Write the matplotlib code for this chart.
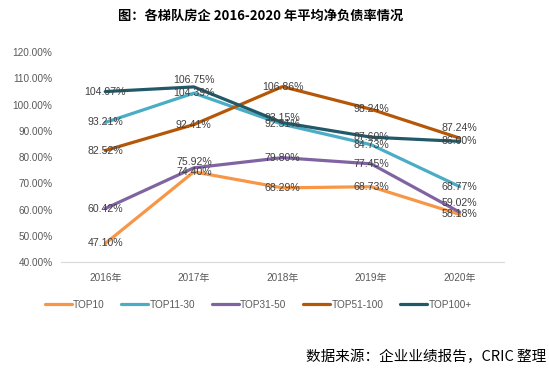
import numpy as np
import matplotlib.pyplot as plt

plt.rcParams['font.family'] = ['Liberation Sans', 'Noto Sans CJK SC', 'DejaVu Sans']

# data
years = ['2016年', '2017年', '2018年', '2019年', '2020年']
series_names = ['TOP10', 'TOP11-30', 'TOP31-50', 'TOP51-100', 'TOP100+']
top10 = [47.10, 74.40, 68.29, 68.73, 58.18]
top11_30 = [93.21, 104.39, 92.51, 84.73, 68.77]
top31_50 = [60.42, 75.92, 79.80, 77.45, 59.02]
top51_100 = [82.52, 92.41, 106.86, 98.24, 87.24]
top100p = [104.97, 106.75, 93.15, 87.60, 86.00]
yticks = [40, 50, 60, 70, 80, 90, 100, 110, 120]

colors = ['#F79646', '#4BACC6', '#8064A2', '#B65708', '#215968']
# labels nudged upward (pixels) so they match the original placement
label_shift = {(1, 4): 7, (2, 4): 5, (4, 3): 10, (1, 2): 6, (4, 2): 9}

fig = plt.figure(figsize=(5.49, 3.75), dpi=100)
ax = fig.add_axes([0.111, 0.301, 0.807, 0.56])

x = np.arange(len(years))
all_series = [top10, top11_30, top31_50, top51_100, top100p]
for si, (vals, name, c) in enumerate(zip(all_series, series_names, colors)):
    ax.plot(x, vals, color=c, lw=2.3, label=name, solid_capstyle='round', zorder=2)
for si, vals in enumerate(all_series):
    for i, v in enumerate(vals):
        dy = label_shift.get((i, si), 0) * 0.72
        ax.annotate(f'{v:.2f}%', (x[i], v), xytext=(0, dy), textcoords='offset points',
                    ha='center', va='center', fontsize=7.6, color='#404040', zorder=3)

ax.set_xlim(-0.5, len(years) - 0.5)
ax.set_ylim(40, 120)
ax.set_yticks(yticks)
ax.set_yticklabels([f'{t:.2f}%' for t in yticks], fontsize=7.2, color='#595959')
ax.set_xticks(x)
ax.set_xticklabels(years, fontsize=7.2, color='#595959')
ax.tick_params(length=0, pad=8)
ax.tick_params(axis='y', pad=6)
for s in ['top', 'right', 'left']:
    ax.spines[s].set_visible(False)
ax.spines['bottom'].set_color('#D9D9D9')
ax.spines['bottom'].set_linewidth(0.8)

fig.legend(loc='center', bbox_to_anchor=(0.47, 0.187), ncol=5, frameon=False,
           fontsize=7.2, handlelength=2.7, handletextpad=0.1, columnspacing=1.7,
           labelcolor='#595959')

fig.text(0.474, 0.957, '图：各梯队房企 2016-2020 年平均净负债率情况', ha='center', va='center',
         fontsize=9.5, fontweight='bold', family=['Noto Sans CJK SC', 'DejaVu Sans'])
fig.text(0.995, 0.048, '数据来源：企业业绩报告，CRIC 整理', ha='right', va='center',
         fontsize=10.5, family=['Noto Sans CJK SC', 'DejaVu Sans'])

fig.savefig('out.png', dpi=100)
